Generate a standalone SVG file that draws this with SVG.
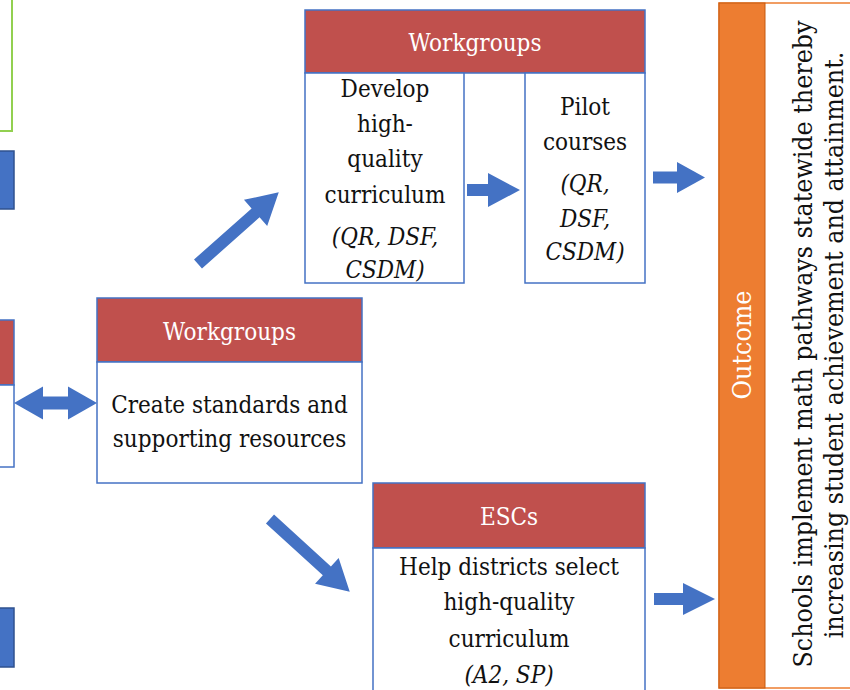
<svg xmlns="http://www.w3.org/2000/svg" width="850" height="690" viewBox="0 0 850 690">
<defs>
<style>
.hdr{fill:#C0504D;stroke:#4472C4;stroke-width:1.5}
.box{fill:#FFFFFF;stroke:#4472C4;stroke-width:1.5}
.blue{fill:#4472C4;stroke:#2F528F;stroke-width:1.5}
.arrow{fill:#4472C4}
.t{font-family:'DejaVu Serif Condensed','DejaVu Serif',serif;font-stretch:condensed;font-size:24px;fill:#111;text-anchor:middle}
.ht{fill:#FFFFFF}
.it{font-style:italic}
.rot{font-size:26.5px}
</style>
</defs>
<rect x="0" y="0" width="850" height="690" fill="#FFFFFF"/>

<g id="left-partial">
<rect x="-10" y="-10" width="22" height="141" fill="none" stroke="#92D050" stroke-width="2"/>
<rect x="-10" y="151" width="24" height="58" class="blue"/>
<rect x="-10" y="320" width="24" height="65" class="hdr"/>
<rect x="-10" y="385" width="24" height="82" class="box"/>
<rect x="-10" y="608" width="24" height="59" class="blue"/>
</g>

<g id="node-workgroups-top">
<rect x="305" y="10" width="340" height="63" class="hdr"/>
<text x="475" y="51" class="t ht">Workgroups</text>
<rect x="305" y="73" width="159" height="210" class="box"/>
<text x="385" y="97" class="t">Develop</text>
<text x="385" y="132" class="t">high-</text>
<text x="385" y="167" class="t">quality</text>
<text x="385" y="203" class="t">curriculum</text>
<text x="385" y="245" class="t it">(QR, DSF,</text>
<text x="385" y="278" class="t it">CSDM)</text>
<rect x="525" y="73" width="120" height="210" class="box"/>
<text x="585" y="115" class="t">Pilot</text>
<text x="585" y="150" class="t">courses</text>
<text x="585" y="192" class="t it">(QR,</text>
<text x="585" y="227" class="t it">DSF,</text>
<text x="585" y="260" class="t it">CSDM)</text>
</g>

<g id="node-workgroups-mid">
<rect x="97" y="298" width="265" height="64" class="hdr"/>
<text x="229.5" y="340" class="t ht">Workgroups</text>
<rect x="97" y="362" width="265" height="121" class="box"/>
<text x="229.5" y="413" class="t">Create standards and</text>
<text x="229.5" y="447" class="t">supporting resources</text>
</g>

<g id="node-escs">
<rect x="373" y="483" width="272" height="65" class="hdr"/>
<text x="509" y="525" class="t ht">ESCs</text>
<rect x="373" y="548" width="272" height="150" class="box"/>
<text x="509" y="575" class="t">Help districts select</text>
<text x="509" y="610" class="t">high-quality</text>
<text x="509" y="647" class="t">curriculum</text>
<text x="509" y="683" class="t it">(A2, SP)</text>
</g>

<g id="node-outcome">
<rect x="719" y="3" width="140" height="685" fill="#FFFFFF" stroke="#ED7D31" stroke-width="1.5"/>
<rect x="719" y="3" width="46" height="685" fill="#ED7D31" stroke="#C55A11" stroke-width="1"/>
<text transform="translate(751,345) rotate(-90)" class="t ht rot">Outcome</text>
<text transform="translate(812,344) rotate(-90)" class="t rot">Schools implement math pathways statewide thereby</text>
<text transform="translate(843,345) rotate(-90)" class="t rot">increasing student achievement and attainment.</text>
</g>

<g id="connectors">
<polygon class="arrow" points="467,184 488,184 488,173 520,190 488,207 488,196 467,196"/>
<polygon class="arrow" points="653,171.5 677,171.5 677,162 705,177.5 677,193 677,183.5 653,183.5"/>
<polygon class="arrow" points="654,593 683,593 683,583 715,599 683,615 683,605 654,605"/>
<polygon class="arrow" points="14,403 43,386.5 43,396.5 68,396.5 68,386.5 97,403 68,419.5 68,409.5 43,409.5 43,419.5"/>
<polygon class="arrow" transform="translate(198,264) rotate(-41.6)" points="0,-6 77,-6 77,-17.5 108,0 77,17.5 77,6 0,6"/>
<polygon class="arrow" transform="translate(270,519) rotate(42.4)" points="0,-6 77,-6 77,-17.5 108,0 77,17.5 77,6 0,6"/>
</g>
</svg>
